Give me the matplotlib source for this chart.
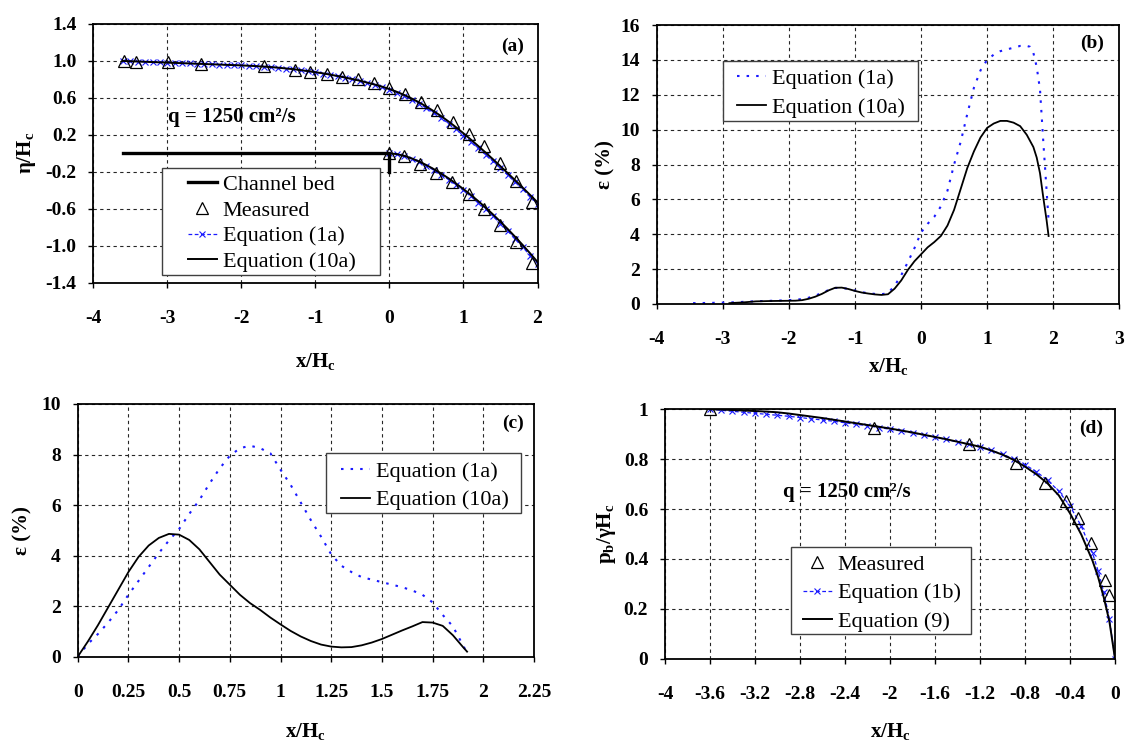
import matplotlib
matplotlib.use('Agg')
import matplotlib.pyplot as plt
from matplotlib.patches import Rectangle

W, H = 1128, 745

# ---- panel (a): free overfall profiles ----
a_x_up = [-3.6, -3.5, -3.4, -3.3, -3.2, -3.1, -3.0, -2.9, -2.8, -2.7, -2.6, -2.5,
          -2.4, -2.3, -2.2, -2.1, -2.0, -1.9, -1.8, -1.7, -1.6, -1.5, -1.4, -1.3,
          -1.2, -1.1, -1.0, -0.9, -0.8, -0.7, -0.6, -0.5, -0.4, -0.3, -0.2, -0.1,
          0.0, 0.1, 0.2, 0.3, 0.4, 0.5, 0.6, 0.7, 0.8, 0.9, 1.0, 1.1, 1.2, 1.3,
          1.4, 1.5, 1.6, 1.7, 1.8, 1.9, 2.0]
a_up_eq1a = [1.000, 0.997, 0.994, 0.991, 0.988, 0.985, 0.982, 0.979, 0.976, 0.973,
             0.970, 0.967, 0.964, 0.961, 0.958, 0.955, 0.952, 0.948, 0.944, 0.939,
             0.933, 0.926, 0.918, 0.909, 0.899, 0.888, 0.876, 0.863, 0.849, 0.834,
             0.818, 0.801, 0.783, 0.763, 0.741, 0.717, 0.690,
             0.658, 0.622, 0.582, 0.538, 0.490, 0.438, 0.382, 0.322, 0.259, 0.193,
             0.125, 0.055, -0.016, -0.088, -0.162, -0.237, -0.313, -0.390, -0.468, -0.547]
a_up_eq10a = [1.000, 0.997, 0.994, 0.991, 0.988, 0.985, 0.982, 0.979, 0.976, 0.973,
              0.970, 0.967, 0.964, 0.961, 0.958, 0.955, 0.952, 0.948, 0.944, 0.939,
              0.934, 0.927, 0.919, 0.911, 0.901, 0.890, 0.879, 0.866, 0.852, 0.837,
              0.821, 0.804, 0.786, 0.766, 0.745, 0.722, 0.696,
              0.666, 0.632, 0.594, 0.552, 0.506, 0.456, 0.402, 0.344, 0.282, 0.217,
              0.149, 0.079, 0.008, -0.065, -0.140, -0.216, -0.293, -0.371, -0.450, -0.530]
a_x_low = [0.0, 0.1, 0.2, 0.3, 0.4, 0.5, 0.6, 0.7, 0.8, 0.9, 1.0, 1.1, 1.2, 1.3, 1.4,
           1.5, 1.6, 1.7, 1.8, 1.9, 2.0]
a_low_eq1a = [0.000, -0.012, -0.033, -0.062, -0.097, -0.137, -0.182, -0.231, -0.284,
              -0.341, -0.402, -0.466, -0.534, -0.606, -0.681, -0.760, -0.842, -0.927,
              -1.015, -1.106, -1.200]
a_low_eq10a = [0.000, -0.008, -0.027, -0.054, -0.088, -0.127, -0.171, -0.219, -0.271,
               -0.327, -0.387, -0.450, -0.517, -0.588, -0.662, -0.740, -0.821, -0.905,
               -0.992, -1.082, -1.175]
a_meas_up_x = [-3.58, -3.42, -2.99, -2.55, -1.70, -1.28, -1.07, -0.85, -0.64, -0.43,
               -0.21, 0.0, 0.21, 0.43, 0.64, 0.86, 1.07, 1.28, 1.50, 1.71, 1.93]
a_meas_up_y = [1.00, 0.99, 0.985, 0.966, 0.944, 0.90, 0.877, 0.86, 0.83, 0.80, 0.765,
               0.708, 0.644, 0.553, 0.47, 0.337, 0.21, 0.075, -0.105, -0.30, -0.526]
a_meas_low_x = [0.0, 0.20, 0.41, 0.63, 0.84, 1.07, 1.28, 1.50, 1.71, 1.93]
a_meas_low_y = [0.0, -0.03, -0.11, -0.21, -0.31, -0.435, -0.60, -0.78, -0.96, -1.19]
bed_x = [-3.6, 0.0, 0.0]
bed_y = [0.0, 0.0, -0.2]

# ---- panel (b): error of the upper profile ----
b_x_eq1a = [-3.45, -3.2, -3.0, -2.8, -2.6, -2.4, -2.2, -2.0, -1.8, -1.7, -1.6, -1.5,
            -1.4, -1.3, -1.2, -1.1, -1.0, -0.9, -0.8, -0.7, -0.6, -0.5, -0.4, -0.3,
            -0.2, -0.1, 0.0, 0.1, 0.2, 0.3, 0.4, 0.5, 0.6, 0.7, 0.8, 0.9, 1.0, 1.1,
            1.2, 1.3, 1.4, 1.5, 1.6, 1.65, 1.7, 1.75, 1.8, 1.85, 1.9, 1.93]
b_eq1a = [0.05, 0.06, 0.08, 0.10, 0.14, 0.17, 0.19, 0.22, 0.28, 0.36, 0.48, 0.63,
          0.80, 0.92, 0.93, 0.86, 0.77, 0.68, 0.62, 0.58, 0.56, 0.62, 1.05, 1.65,
          2.4, 3.2, 4.1, 4.6, 5.0, 5.6, 6.5, 8.0, 9.3, 10.9, 12.4, 13.4, 14.0, 14.3,
          14.5, 14.6, 14.7, 14.8, 14.8, 14.75, 14.4, 13.6, 12.3, 9.3, 6.5, 4.8]
b_x_eq10a = [-2.9, -2.7, -2.5, -2.3, -2.1, -1.9, -1.8, -1.7, -1.6, -1.5, -1.4, -1.3,
             -1.2, -1.1, -1.0, -0.9, -0.8, -0.7, -0.6, -0.5, -0.4, -0.3, -0.2, -0.1,
             0.0, 0.1, 0.2, 0.3, 0.4, 0.5, 0.6, 0.7, 0.8, 0.9, 1.0, 1.1, 1.2, 1.3,
             1.4, 1.5, 1.6, 1.7, 1.75, 1.8, 1.85, 1.9, 1.93]
b_eq10a = [0.05, 0.09, 0.15, 0.17, 0.18, 0.19, 0.22, 0.30, 0.42, 0.58, 0.78, 0.93,
           0.94, 0.86, 0.75, 0.66, 0.60, 0.55, 0.52, 0.56, 0.88, 1.35, 1.95, 2.45,
           2.85, 3.25, 3.55, 3.9, 4.5, 5.4, 6.6, 7.8, 8.75, 9.55, 10.1, 10.35, 10.5,
           10.5, 10.4, 10.2, 9.7, 9.0, 8.4, 7.5, 6.1, 4.8, 3.9]

# ---- panel (c): error of the lower profile ----
c_x = [0.0, 0.05, 0.1, 0.15, 0.2, 0.25, 0.3, 0.35, 0.4, 0.45, 0.5, 0.55, 0.6, 0.65,
       0.7, 0.75, 0.8, 0.85, 0.9, 0.95, 1.0, 1.05, 1.1, 1.15, 1.2, 1.25, 1.3, 1.35,
       1.4, 1.45, 1.5, 1.55, 1.6, 1.65, 1.7, 1.75, 1.8, 1.85, 1.9, 1.92]
c_eq1a = [0.0, 0.50, 0.90, 1.35, 1.85, 2.45, 3.00, 3.55, 4.10, 4.60, 5.05, 5.65, 6.20,
          6.85, 7.45, 7.95, 8.25, 8.35, 8.25, 8.05, 7.40, 6.80, 6.10, 5.40, 4.75, 4.05,
          3.60, 3.35, 3.15, 3.05, 2.95, 2.85, 2.75, 2.62, 2.45, 2.15, 1.65, 1.20, 0.45,
          0.15]
c_eq10a = [0.0, 0.60, 1.25, 1.95, 2.65, 3.35, 3.95, 4.40, 4.70, 4.86, 4.83, 4.62, 4.25,
           3.75, 3.25, 2.85, 2.45, 2.12, 1.85, 1.55, 1.28, 1.02, 0.80, 0.62, 0.48, 0.40,
           0.37, 0.38, 0.45, 0.56, 0.70, 0.87, 1.04, 1.20, 1.37, 1.35, 1.22, 0.85, 0.38,
           0.20]

# ---- panel (d): bottom pressure ----
d_x = [-3.6, -3.5, -3.4, -3.3, -3.2, -3.1, -3.0, -2.9, -2.8, -2.7, -2.6, -2.5, -2.4,
       -2.3, -2.2, -2.1, -2.0, -1.9, -1.8, -1.7, -1.6, -1.5, -1.4, -1.3, -1.2, -1.1,
       -1.0, -0.9, -0.8, -0.7, -0.6, -0.5, -0.4, -0.3, -0.2, -0.15, -0.1, -0.05, 0.0]
d_eq1b = [1.000, 0.996, 0.992, 0.988, 0.984, 0.980, 0.976, 0.972, 0.967, 0.962, 0.957,
          0.952, 0.946, 0.940, 0.934, 0.927, 0.920, 0.913, 0.905, 0.897, 0.888, 0.879,
          0.869, 0.859, 0.848, 0.835, 0.820, 0.801, 0.778, 0.750, 0.716, 0.672, 0.612,
          0.532, 0.424, 0.352, 0.268, 0.160, 0.0]
d_eq9 = [1.000, 0.999, 0.997, 0.995, 0.993, 0.991, 0.988, 0.983, 0.977, 0.971, 0.965,
         0.958, 0.951, 0.944, 0.937, 0.930, 0.923, 0.915, 0.907, 0.898, 0.889, 0.880,
         0.870, 0.860, 0.850, 0.835, 0.818, 0.797, 0.770, 0.740, 0.703, 0.655, 0.583,
         0.498, 0.393, 0.327, 0.246, 0.150, 0.0]
d_meas_x = [-3.6, -2.14, -1.30, -0.88, -0.62, -0.44, -0.33, -0.21, -0.093, -0.055]
d_meas_y = [1.0, 0.924, 0.86, 0.783, 0.706, 0.634, 0.565, 0.463, 0.316, 0.255]

# ---- ticks ----
a_xticks = [-4, -3, -2, -1, 0, 1, 2]
a_yticks = [-1.4, -1.0, -0.6, -0.2, 0.2, 0.6, 1.0, 1.4]
a_ylabels = ['-1.4', '-1.0', '-0.6', '-0.2', '0.2', '0.6', '1.0', '1.4']
b_xticks = [-4, -3, -2, -1, 0, 1, 2, 3]
b_yticks = [0, 2, 4, 6, 8, 10, 12, 14, 16]
c_xticks = [0, 0.25, 0.5, 0.75, 1, 1.25, 1.5, 1.75, 2, 2.25]
c_xlabels = ['0', '0.25', '0.5', '0.75', '1', '1.25', '1.5', '1.75', '2', '2.25']
c_yticks = [0, 2, 4, 6, 8, 10]
d_xticks = [-4, -3.6, -3.2, -2.8, -2.4, -2, -1.6, -1.2, -0.8, -0.4, 0]
d_xlabels = ['-4', '-3.6', '-3.2', '-2.8', '-2.4', '-2', '-1.6', '-1.2', '-0.8', '-0.4', '0']
d_yticks = [0, 0.2, 0.4, 0.6, 0.8, 1.0]
d_ylabels = ['0', '0.2', '0.4', '0.6', '0.8', '1']

plt.rcParams['font.family'] = ['Liberation Serif', 'DejaVu Serif']
plt.rcParams['mathtext.fontset'] = 'custom'
plt.rcParams['mathtext.rm'] = 'Liberation Serif'
plt.rcParams['mathtext.it'] = 'Liberation Serif:italic'
plt.rcParams['mathtext.bf'] = 'Liberation Serif:bold'
plt.rcParams['axes.unicode_minus'] = False

BLUE = '#1a1aff'
TICK_FS = 14
LEG_FS = 16

fig = plt.figure(figsize=(W / 100, H / 100), dpi=100)


def px_box(l, t, r, b):
    return [l / W, 1 - b / H, (r - l) / W, (b - t) / H]


def style(ax, xlim, xticks, xlabels, ylim, yticks, ylabels, xlab, ylab, xlab_y, ylab_x):
    ax.set_xlim(xlim)
    ax.set_ylim(ylim)
    ax.set_xticks(xticks)
    ax.set_xticklabels(xlabels, fontsize=TICK_FS, fontweight='bold')
    ax.set_yticks(yticks)
    ax.set_yticklabels(ylabels, fontsize=TICK_FS, fontweight='bold')
    ax.grid(True, color='0.15', lw=0.8, ls=(0, (3, 3)))
    ax.set_axisbelow(True)
    for s in ax.spines.values():
        s.set_linewidth(1.3)
    ax.tick_params(direction='out', length=3.6, width=1, top=False, right=False)
    ax.tick_params(axis='x', pad=16)
    ax.tick_params(axis='y', pad=8.5)
    # label positions given in image pixels
    pos = ax.get_position()
    ax.set_xlabel(xlab, fontsize=15, fontweight='bold', va='center')
    ax.xaxis.set_label_coords(0.5, ((1 - xlab_y / H) - pos.y0) / pos.height)
    ax.set_ylabel(ylab, fontsize=15, fontweight='bold', va='center')
    ax.yaxis.set_label_coords((ylab_x / W - pos.x0) / pos.width, 0.5)


def legend_box(ax, handles, labels, box, hx, row1, spacing):
    l, t, r, b = box
    ax.add_patch(Rectangle((l / W, 1 - b / H), (r - l) / W, (b - t) / H,
                           transform=fig.transFigure, fc='white', ec='0.25',
                           lw=1, zorder=4, clip_on=False))
    leg = ax.legend(handles, labels, loc='upper left',
                    bbox_to_anchor=(hx / W, 1 - row1 / H),
                    bbox_transform=fig.transFigure, frameon=False,
                    borderpad=0, borderaxespad=0, handlelength=1.3,
                    handletextpad=0.27, labelspacing=spacing, fontsize=LEG_FS)
    leg.set_zorder(5)


def px_text(ax, x, y, s, **kw):
    ax.text(x / W, 1 - y / H, s, transform=fig.transFigure, fontweight='bold', **kw)


# ---------- (a) ----------
ax = fig.add_axes(px_box(93.3, 24, 537.5, 282.7))
eq1, = ax.plot(a_x_up, a_up_eq1a, color=BLUE, ls=(0, (3, 2)), lw=0.9,
               marker='x', ms=4.5, mew=0.8, zorder=2)
ax.plot(a_x_low, a_low_eq1a, color=BLUE, ls=(0, (3, 2)), lw=0.9,
        marker='x', ms=4.5, mew=0.8, zorder=2)
eq10, = ax.plot(a_x_up, a_up_eq10a, color='black', lw=1.4, zorder=3)
ax.plot(a_x_low, a_low_eq10a, color='black', lw=1.4, zorder=3)
bed, = ax.plot(bed_x, bed_y, color='black', lw=2.4, zorder=3)
meas, = ax.plot(a_meas_up_x, a_meas_up_y, ls='none', marker='^', ms=8,
                mfc='none', mec='black', mew=0.9, zorder=3.5)
ax.plot(a_meas_low_x, a_meas_low_y, ls='none', marker='^', ms=8,
        mfc='none', mec='black', mew=0.9, zorder=3.5)
style(ax, (-4, 2), a_xticks, [str(v) for v in a_xticks], (-1.4, 1.4), a_yticks, a_ylabels,
      'x/H$_\\mathbf{c}$', 'η/H$_\\mathbf{c}$', 362, 26)
legend_box(ax, [bed, meas, eq1, eq10],
           ['Channel bed', 'Measured', 'Equation (1a)', 'Equation (10a)'],
           (161.7, 167.7, 380, 275.3), 187.7, 174.7, 0.226)
px_text(ax, 168.3, 117.3, 'q = 1250 cm²/s', fontsize=15, va='center')
px_text(ax, 513, 46, '(a)', fontsize=14, va='center', ha='center')

# ---------- (b) ----------
ax = fig.add_axes(px_box(656.7, 25, 1119.3, 304))
eq1, = ax.plot(b_x_eq1a, b_eq1a, color=BLUE, ls=(0, (1.2, 3.4)), lw=1.5, zorder=2)
eq10, = ax.plot(b_x_eq10a, b_eq10a, color='black', lw=1.3, zorder=3)
style(ax, (-4, 3), b_xticks, [str(v) for v in b_xticks], (0, 16), b_yticks,
      [str(v) for v in b_yticks], 'x/H$_\\mathbf{c}$', 'ε (%)', 366, 605)
legend_box(ax, [eq1, eq10], ['Equation (1a)', 'Equation (10a)'],
           (722.7, 60.7, 918.3, 121), 736.7, 68.7, 0.37)
px_text(ax, 1091.7, 43.3, '(b)', fontsize=14, va='center', ha='center')

# ---------- (c) ----------
ax = fig.add_axes(px_box(77.7, 404, 534, 656.7))
eq1, = ax.plot(c_x, c_eq1a, color=BLUE, ls=(0, (1.2, 3.4)), lw=1.5, zorder=2)
eq10, = ax.plot(c_x, c_eq10a, color='black', lw=1.3, zorder=3)
style(ax, (0, 2.25), c_xticks, c_xlabels, (0, 10), c_yticks,
      [str(v) for v in c_yticks], 'x/H$_\\mathbf{c}$', 'ε (%)', 731, 22)
legend_box(ax, [eq1, eq10], ['Equation (1a)', 'Equation (10a)'],
           (326, 453.3, 521, 513.3), 341, 461.3, 0.357)
px_text(ax, 513, 423, '(c)', fontsize=14, va='center', ha='center')

# ---------- (d) ----------
ax = fig.add_axes(px_box(665, 409.3, 1115, 658.7))
eq1, = ax.plot(d_x, d_eq1b, color=BLUE, ls=(0, (3, 2)), lw=0.9,
               marker='x', ms=4.5, mew=0.8, zorder=2)
eq9, = ax.plot(d_x, d_eq9, color='black', lw=1.4, zorder=3)
meas, = ax.plot(d_meas_x, d_meas_y, ls='none', marker='^', ms=8,
                mfc='none', mec='black', mew=0.9, zorder=3.5)
style(ax, (-4, 0), d_xticks, d_xlabels, (0, 1), d_yticks, d_ylabels,
      'x/H$_\\mathbf{c}$', 'p$_\\mathbf{b}$/γH$_\\mathbf{c}$', 731, 607)
legend_box(ax, [meas, eq1, eq9], ['Measured', 'Equation (1b)', 'Equation (9)'],
           (790.7, 546.7, 970.7, 634), 802.7, 554.7, 0.343)
px_text(ax, 783, 491.7, 'q = 1250 cm²/s', fontsize=15, va='center')
px_text(ax, 1090.7, 428, '(d)', fontsize=14, va='center', ha='center')

fig.savefig('out.png', dpi=100)
